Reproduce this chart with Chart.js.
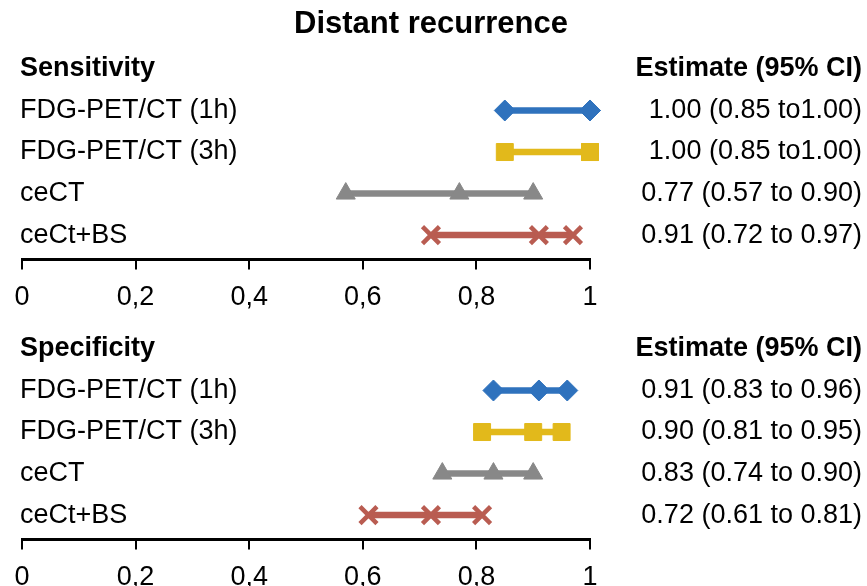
<!DOCTYPE html>
<html>
<head>
<meta charset="utf-8">
<script src="https://cdn.jsdelivr.net/npm/chart.js@4"></script>
<style>
  html, body { margin: 0; padding: 0; background: #fff; overflow: hidden; }
  canvas { position: absolute; left: 0; }
  #sens { top: 0; }
  #spec { top: 280px; }
</style>
</head>
<body>
<canvas id="sens" width="867" height="326"></canvas>
<canvas id="spec" width="867" height="326"></canvas>
<script>
const rowLabels = ['FDG-PET/CT (1h)', 'FDG-PET/CT (3h)', 'ceCT', 'ceCt+BS'];
const rowColors = ['#2f72bd', '#e2b91b', '#888888', '#b95c51'];
const rowMarkers = ['rectRot', 'rect', 'triangle', 'crossRot'];
const rowMarkerSize = [10.5, 12, 11, 12];

const sensEstimate = [1.00, 1.00, 0.77, 0.91];
const sensLower = [0.85, 0.85, 0.57, 0.72];
const sensUpper = [1.00, 1.00, 0.90, 0.97];
const sensText = ['1.00 (0.85 to1.00)', '1.00 (0.85 to1.00)', '0.77 (0.57 to 0.90)', '0.91 (0.72 to 0.97)'];

const specEstimate = [0.91, 0.90, 0.83, 0.72];
const specLower = [0.83, 0.81, 0.74, 0.61];
const specUpper = [0.96, 0.95, 0.90, 0.81];
const specText = ['0.91 (0.83 to 0.96)', '0.90 (0.81 to 0.95)', '0.83 (0.74 to 0.90)', '0.72 (0.61 to 0.81)'];

const xTickLabels = ['0', '0,2', '0,4', '0,6', '0,8', '1'];

Chart.defaults.font.family = "'Liberation Sans', Arial, sans-serif";
Chart.defaults.color = '#000';

// title block: 31px * 1.2 line height + 6 + 5 padding
const TITLE_SPACE = 31 * 1.2 + 11;

function tickFont(c) {
    // first row of each axis is the bold header
    return c.index === 0 ? { size: 27, weight: 'bold' } : { size: 27, weight: 'normal' };
}

function makePanel(id, header, lower, estimate, upper, text, title) {
    const datasets = rowLabels.map((name, i) => ({
        label: name,
        data: [lower[i], estimate[i], upper[i]].map(v => ({ x: v, y: i + 1 })),
        borderColor: rowColors[i],
        backgroundColor: rowColors[i],
        borderWidth: 6.5,
        pointStyle: rowMarkers[i],
        pointRadius: rowMarkerSize[i],
        pointBackgroundColor: rowColors[i],
        pointBorderColor: rowColors[i],
        pointBorderWidth: rowMarkers[i] === 'crossRot' ? 4.5 : 1,
        clip: false,
    }));

    const leftLabels = [header].concat(rowLabels);
    const rightLabels = ['Estimate (95% CI)'].concat(text);
    const rowTicks = (s) => { s.ticks = [0, 1, 2, 3, 4].map(v => ({ value: v })); };

    return new Chart(document.getElementById(id), {
        type: 'line',
        data: { datasets: datasets },
        options: {
            responsive: false,
            animation: false,
            layout: { padding: { left: 0, right: 5, top: title ? 0 : TITLE_SPACE, bottom: 0 } },
            plugins: {
                legend: { display: false },
                tooltip: { enabled: false },
                title: title ? {
                    display: true,
                    text: title,
                    font: { size: 31, weight: 'bold' },
                    padding: { top: 6, bottom: 5 },
                } : { display: false },
            },
            scales: {
                x: {
                    type: 'linear',
                    min: 0,
                    max: 1,
                    ticks: {
                        stepSize: 0.2,
                        font: { size: 27 },
                        padding: 12,
                        maxRotation: 0,
                        callback: (v, i) => xTickLabels[i],
                    },
                    grid: { drawOnChartArea: false, drawTicks: true, tickLength: 10, color: '#000', lineWidth: 2 },
                    border: { color: '#000', width: 3 },
                },
                y: {
                    type: 'linear',
                    position: 'left',
                    reverse: true,
                    min: -0.5,
                    max: 4.59,
                    afterBuildTicks: rowTicks,
                    afterFit: (s) => { s.width = 22; s.paddingTop = 0; s.paddingBottom = 0; },
                    ticks: {
                        mirror: true,
                        padding: -2,
                        font: tickFont,
                        callback: (v) => leftLabels[v],
                    },
                    grid: { display: false },
                    border: { display: false },
                },
                est: {
                    type: 'linear',
                    position: 'right',
                    reverse: true,
                    min: -0.5,
                    max: 4.59,
                    afterBuildTicks: rowTicks,
                    afterFit: (s) => { s.width = 272; s.paddingTop = 0; s.paddingBottom = 0; },
                    ticks: {
                        crossAlign: 'far',
                        padding: 46,
                        font: tickFont,
                        callback: (v) => rightLabels[v],
                    },
                    grid: { display: false },
                    border: { display: false },
                },
            },
        },
    });
}

makePanel('sens', 'Sensitivity', sensLower, sensEstimate, sensUpper, sensText, 'Distant recurrence');
makePanel('spec', 'Specificity', specLower, specEstimate, specUpper, specText, null);
</script>
</body>
</html>
